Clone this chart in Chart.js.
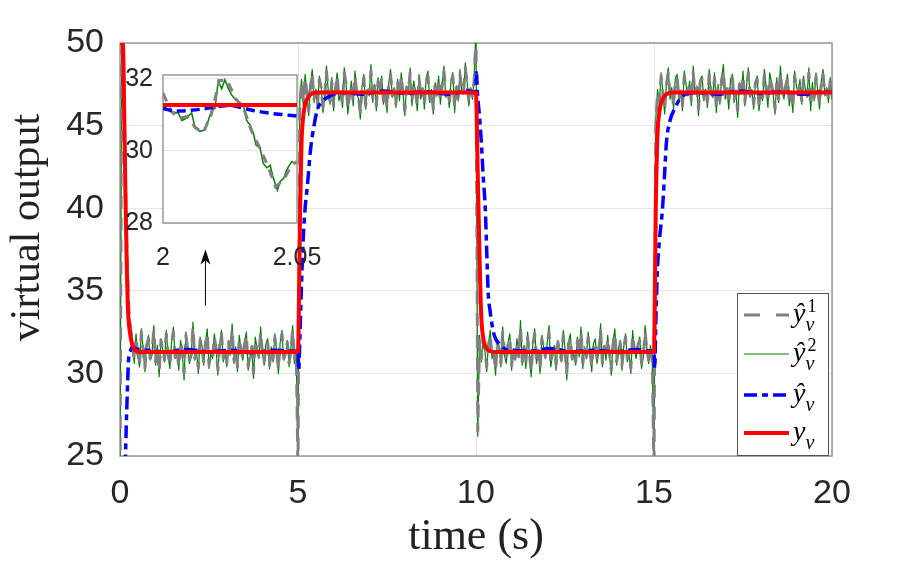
<!DOCTYPE html>
<html>
<head>
<meta charset="utf-8">
<script src="https://cdn.jsdelivr.net/npm/chart.js@4.4.1/dist/chart.umd.min.js"></script>
<style>
  body { margin: 0; background: #fff; }
  #wrap { position: relative; width: 920px; height: 570px; }
  #mainChart { position: absolute; left: 0; top: 0; }
  #insetChart { position: absolute; left: 110px; top: 50px; }
</style>
</head>
<body>
<div id="wrap">
  <canvas id="mainChart" width="920" height="570"></canvas>
  <canvas id="insetChart" width="230" height="220"></canvas>
</div>
<script>
// ticks
const xTicks = [0, 5, 10, 15, 20];
const yTicks = [25, 30, 35, 40, 45, 50];
const insetXTicks = [2, 2.05];
const insetYTicks = [28, 30, 32];

// y_v (red)
const redT = [0, 0.08, 0.1, 0.13, 0.16, 0.19, 0.22, 0.26, 0.3, 0.35, 0.43, 0.55, 2.5,
  5.0, 5.03, 5.06, 5.1, 5.15, 5.2, 5.3, 5.4, 5.55, 7.5,
  10.0, 10.02, 10.05, 10.08, 10.1, 10.13, 10.16, 10.2, 10.25, 10.35, 10.5, 12.5,
  15.0, 15.02, 15.05, 15.1, 15.15, 15.2, 15.3, 15.4, 15.55, 17.5, 20];
const redV = [50, 50, 48.5, 44, 40, 36.5, 34, 32.8, 32.2, 31.7, 31.4, 31.3, 31.3,
  31.3, 35, 40, 44, 45.6, 46.3, 46.75, 46.95, 47, 47,
  47, 45.5, 42, 39, 37, 34.5, 33, 32.2, 31.7, 31.4, 31.3, 31.3,
  31.3, 34, 40, 44.5, 45.8, 46.4, 46.8, 46.95, 47, 47, 47];

// y_v hat (blue)
const blueT = [0, 0.1, 0.15, 0.2, 0.24, 0.3, 0.34, 0.45, 0.8, 1.3, 1.9, 2.5, 3.1, 3.7, 4.3, 4.9,
  5.0, 5.02, 5.05, 5.1, 5.15, 5.2, 5.27, 5.35, 5.45, 5.55, 5.7, 5.9, 6.2, 6.8, 7.4, 8.0, 8.6, 9.2, 9.8,
  10.0, 10.01, 10.04, 10.1, 10.15, 10.2, 10.26, 10.3, 10.34, 10.4, 10.48, 10.55, 10.65, 10.8, 10.95,
  11.5, 12.1, 12.7, 13.3, 13.9, 14.5, 14.95,
  15.0, 15.02, 15.05, 15.09, 15.15, 15.24, 15.3, 15.35, 15.45, 15.6, 15.75, 15.9, 16.2,
  16.8, 17.4, 18.0, 18.6, 19.2, 19.8, 20];
const blueV = [5, 18, 24.5, 28.5, 30.8, 31.4, 31.6, 31.5, 31.4, 31.3, 31.45, 31.3, 31.4, 31.25, 31.4, 31.35,
  31.3, 30.2, 32, 35.5, 38.3, 40, 41.5, 43.5, 45, 46, 46.5, 46.8, 47, 46.9, 47.1, 46.95, 47.05, 46.9, 47.1,
  47, 48.2, 47, 45.5, 44, 42, 40, 37.5, 35, 33.7, 32.6, 32.1, 31.8, 31.5, 31.4,
  31.35, 31.5, 31.3, 31.4, 31.3, 31.45, 31.35,
  31.3, 30.3, 33, 36, 38, 40, 42.2, 44, 45.3, 46.1, 46.7, 46.9, 47,
  46.9, 47.1, 46.95, 47.05, 46.9, 47.05, 47];

// noisy estimates, one sample every 0.05 s, one array per 5 s window
const NOISE_DT = 0.05;
const greenA = [24, 50.5, 48.6, 41, 36.8, 33.6, 32.9,
  31.9, 30.6, 32.4, 31.0, 30.4, 32.7, 31.5, 30.1, 31.8, 32.3,
  30.8, 31.2, 32.9, 30.5, 31.7, 29.8, 32.1, 31.4, 30.7, 32.6,
  31.1, 30.3, 31.9, 32.8, 30.9, 31.5, 30.2, 32.0, 31.3, 29.6,
  32.5, 31.6, 30.6, 31.0, 33.1, 30.8, 31.4, 30.0, 32.2, 31.7,
  30.5, 31.9, 32.7, 30.3, 31.2, 30.9, 32.4, 31.5, 29.9, 31.8,
  32.6, 30.7, 31.3, 30.4, 32.0, 31.1, 33.0, 30.6, 31.6, 30.1,
  32.3, 31.4, 30.8, 31.9, 32.5, 30.2, 31.0, 31.7, 29.7, 32.2,
  31.5, 30.9, 32.8, 31.2, 30.5, 31.8, 32.1, 30.3, 31.6, 30.7,
  32.4, 31.3, 30.0, 31.9, 32.6, 30.8, 31.1, 32.0, 30.4, 31.5,
  32.9, 30.6, 31.4];
const greenB = [24, 46.6,
  47.8, 46.2, 48.1, 46.9, 45.6, 47.5, 48.4, 46.4, 47.2, 46.0,
  48.0, 47.4, 45.8, 46.7, 48.6, 47.1, 46.3, 47.9, 45.9, 47.3,
  48.2, 46.5, 47.0, 46.1, 48.5, 47.6, 45.7, 46.8, 47.7, 46.2,
  48.3, 47.0, 46.6, 45.4, 47.4, 48.1, 46.0, 47.2, 46.8, 48.7,
  46.4, 47.5, 45.9, 47.9, 46.9, 48.0, 46.3, 47.1, 45.8, 47.6,
  48.4, 46.7, 47.3, 46.1, 47.8, 46.5, 48.2, 47.0, 45.6, 47.4,
  46.9, 48.5, 46.2, 47.7, 47.1, 45.9, 48.1, 46.6, 47.3, 46.0,
  47.9, 48.3, 46.4, 47.2, 45.7, 47.6, 46.8, 48.0, 46.3, 47.5,
  48.6, 46.7, 47.0, 46.1, 47.8, 48.2, 45.8, 47.4, 46.5, 48.4,
  47.1, 46.9, 48.8, 47.7, 46.2, 47.3, 46.6, 48.0];
const greenC = [51, 26.2, 32.3,
  30.7, 32.2, 31.4, 30.1, 31.8, 32.6, 30.9, 31.3, 29.9, 32.0,
  31.6, 30.4, 32.8, 31.1, 30.6, 31.9, 32.4, 30.2, 31.5, 30.8,
  32.1, 31.0, 33.2, 30.5, 31.7, 30.3, 32.5, 31.2, 29.8, 31.9,
  32.7, 30.6, 31.4, 30.0, 32.3, 31.6, 30.9, 31.8, 32.9, 30.4,
  31.1, 31.7, 30.2, 32.0, 31.3, 30.7, 32.6, 31.5, 29.6, 31.9,
  32.4, 30.8, 31.2, 30.5, 32.2, 31.0, 32.8, 30.3, 31.6, 30.9,
  32.5, 31.4, 30.1, 31.8, 32.1, 30.6, 31.3, 33.0, 30.4, 31.7,
  30.8, 32.3, 31.1, 29.9, 31.9, 32.7, 30.5, 31.5, 32.0, 30.2,
  31.6, 32.4, 30.7, 31.2, 30.0, 32.6, 31.4, 30.9, 31.8, 32.2,
  30.3, 31.0, 32.9, 31.5, 30.6, 31.7, 30.8];
const greenD = [24, 45.4, 47.2,
  46.3, 48.2, 47.0, 45.7, 47.6, 48.5, 46.6, 47.3, 46.0, 47.9,
  48.1, 46.4, 47.1, 45.9, 48.3, 47.5, 46.8, 47.7, 46.2, 48.6,
  46.9, 47.4, 45.6, 47.8, 48.0, 46.5, 47.2, 46.1, 48.4, 47.0,
  46.7, 48.2, 45.8, 47.5, 46.3, 47.9, 48.7, 46.6, 47.3, 46.0,
  47.8, 48.1, 46.4, 47.1, 45.5, 47.6, 46.9, 48.3, 46.2, 47.4,
  48.5, 46.7, 47.2, 46.0, 47.7, 48.0, 45.9, 47.0, 46.5, 48.4,
  47.3, 46.1, 48.2, 47.6, 46.8, 45.7, 47.9, 46.4, 48.6, 47.1,
  46.6, 47.5, 48.1, 46.2, 47.0, 45.8, 48.3, 47.4, 46.9, 47.8,
  46.3, 48.0, 47.2, 46.7, 48.5, 45.9, 47.6, 46.5, 48.2, 47.1,
  46.0, 47.7, 48.4, 46.8, 47.3, 46.4, 47.9, 46.6];
const grayA = [24, 50.5, 48.4, 41.5, 37, 33.8, 32.7,
  31.8, 30.8, 32.2, 31.1, 30.6, 32.5, 31.4, 30.3, 31.7, 32.1,
  30.9, 31.3, 32.6, 30.7, 31.6, 30.1, 32.0, 31.4, 30.8, 32.4,
  31.2, 30.5, 31.8, 32.5, 31.0, 31.5, 30.4, 31.9, 31.3, 30.0,
  32.3, 31.5, 30.8, 31.1, 32.8, 30.9, 31.4, 30.3, 32.0, 31.6,
  30.7, 31.8, 32.4, 30.5, 31.2, 31.0, 32.2, 31.5, 30.2, 31.7,
  32.4, 30.9, 31.3, 30.6, 31.9, 31.2, 32.7, 30.8, 31.5, 30.4,
  32.1, 31.4, 30.9, 31.8, 32.3, 30.4, 31.1, 31.6, 30.0, 32.0,
  31.4, 31.0, 32.5, 31.2, 30.7, 31.7, 31.9, 30.5, 31.5, 30.9,
  32.2, 31.3, 30.3, 31.8, 32.4, 30.9, 31.2, 31.9, 30.6, 31.4,
  32.6, 30.8, 31.4];
const grayB = [24, 46.2,
  47.6, 46.4, 47.9, 47.0, 45.9, 47.4, 48.1, 46.6, 47.1, 46.3,
  47.8, 47.3, 46.1, 46.8, 48.3, 47.0, 46.5, 47.7, 46.2, 47.2,
  48.0, 46.7, 47.0, 46.3, 48.2, 47.5, 46.0, 46.9, 47.5, 46.4,
  48.0, 47.0, 46.7, 45.8, 47.3, 47.9, 46.2, 47.1, 46.9, 48.3,
  46.6, 47.4, 46.2, 47.7, 46.9, 47.8, 46.5, 47.0, 46.1, 47.5,
  48.1, 46.8, 47.2, 46.3, 47.6, 46.7, 48.0, 47.0, 45.9, 47.3,
  47.0, 48.2, 46.4, 47.5, 47.1, 46.2, 47.9, 46.7, 47.2, 46.3,
  47.7, 48.0, 46.6, 47.1, 46.0, 47.5, 46.9, 47.8, 46.5, 47.4,
  48.3, 46.8, 47.0, 46.3, 47.6, 48.0, 46.1, 47.3, 46.7, 48.1,
  47.1, 47.0, 48.5, 47.5, 46.4, 47.2, 46.8, 47.8];
const grayC = [50.5, 26.5, 32.0,
  30.9, 32.0, 31.4, 30.4, 31.7, 32.3, 31.0, 31.3, 30.2, 31.9,
  31.5, 30.6, 32.5, 31.2, 30.8, 31.8, 32.1, 30.5, 31.4, 30.9,
  31.9, 31.0, 32.8, 30.7, 31.6, 30.6, 32.2, 31.2, 30.1, 31.8,
  32.4, 30.8, 31.4, 30.3, 32.1, 31.5, 31.0, 31.7, 32.5, 30.6,
  31.2, 31.6, 30.5, 31.9, 31.3, 30.8, 32.3, 31.4, 30.0, 31.8,
  32.1, 30.9, 31.2, 30.7, 32.0, 31.1, 32.5, 30.6, 31.5, 31.0,
  32.2, 31.4, 30.4, 31.7, 31.9, 30.8, 31.3, 32.6, 30.6, 31.6,
  30.9, 32.1, 31.2, 30.2, 31.8, 32.4, 30.7, 31.4, 31.9, 30.5,
  31.5, 32.2, 30.9, 31.2, 30.3, 32.3, 31.4, 31.0, 31.7, 32.0,
  30.6, 31.1, 32.5, 31.4, 30.8, 31.6, 30.9];
const grayD = [24, 45.0, 47.0,
  46.5, 48.0, 47.0, 46.0, 47.5, 48.2, 46.8, 47.2, 46.2, 47.8,
  47.9, 46.6, 47.1, 46.2, 48.0, 47.4, 46.9, 47.6, 46.4, 48.2,
  47.0, 47.3, 46.0, 47.7, 47.8, 46.7, 47.1, 46.4, 48.1, 47.0,
  46.8, 47.9, 46.1, 47.4, 46.5, 47.8, 48.3, 46.8, 47.2, 46.3,
  47.6, 47.9, 46.6, 47.1, 45.9, 47.5, 46.9, 48.0, 46.4, 47.3,
  48.2, 46.8, 47.1, 46.3, 47.6, 47.8, 46.2, 47.0, 46.7, 48.1,
  47.2, 46.4, 47.9, 47.5, 46.9, 46.0, 47.7, 46.6, 48.2, 47.1,
  46.8, 47.4, 47.9, 46.4, 47.0, 46.1, 48.0, 47.3, 46.9, 47.6,
  46.5, 47.8, 47.1, 46.8, 48.2, 46.2, 47.5, 46.7, 48.0, 47.1,
  46.3, 47.6, 48.1, 46.9, 47.2, 46.6, 47.7, 46.8];
const windowStarts = [0, 5, 10, 15];

// zoom 2 .. 2.05 s
const insetGreenT = [2.0, 2.0026, 2.0057, 2.007, 2.0082, 2.0107, 2.012, 2.0138, 2.0157, 2.0169,
  2.0182, 2.0194, 2.0206, 2.0219, 2.0231, 2.0244, 2.0256, 2.0269, 2.0287, 2.03,
  2.0312, 2.0325, 2.0337, 2.0347, 2.0362, 2.0374, 2.0387, 2.04, 2.0412, 2.0427,
  2.0437, 2.045, 2.0462, 2.048, 2.0492, 2.05];
const insetGreenV = [31.26, 31.09, 31.05, 30.84, 30.88, 31.05, 30.63, 30.54, 30.58, 30.84,
  31.13, 31.17, 31.93, 31.72, 31.97, 31.72, 31.55, 31.43, 31.34, 31.26,
  30.84, 30.71, 30.5, 30.16, 30.08, 29.65, 29.53, 29.6, 29.23, 28.91,
  29.15, 29.23, 29.48, 29.7, 29.66, 29.7];
const insetGrayT = [2.0, 2.003, 2.006, 2.009, 2.012, 2.015, 2.018, 2.021, 2.024, 2.027,
  2.03, 2.033, 2.036, 2.039, 2.042, 2.045, 2.048, 2.05];
const insetGrayV = [31.6, 31.1, 30.9, 30.95, 30.65, 30.5, 31.0, 31.95, 31.95, 31.45,
  31.2, 30.55, 30.1, 29.6, 29.0, 29.2, 29.6, 29.7];
const insetBlueT = [2.0, 2.005, 2.01, 2.015, 2.02, 2.025, 2.03, 2.035, 2.04, 2.045, 2.05];
const insetBlueV = [31.17, 31.1, 31.12, 31.16, 31.22, 31.26, 31.18, 31.1, 31.04, 31.0, 30.96];
const insetRedT = [2.0, 2.05];
const insetRedV = [31.27, 31.27];

// legend
const legendSup = ["1", "2", "", ""];
const legendHat = [true, true, true, false];

// arrow pointing at the zoom window (time, from, to)
const arrowT = 2.4;
const arrowFrom = 34.1;
const arrowTo = 37.5;

const pts = (ts, vs) => vs.map((v, i) => ({ x: ts[i], y: v }));
const windowPts = (wins) =>
  wins.flatMap((vals, k) =>
    vals.map((v, i) => ({ x: +(windowStarts[k] + i * NOISE_DT).toFixed(2), y: v }))
  );

const tickFont = { family: "Liberation Sans", size: 34 };
const tickColor = "#262626";
const gridColor = "#e6e6e6";
const frameColor = "#8a8a8a";

// gray drawn above green, red on top of all
const styles = [
  { borderColor: "#808080", borderWidth: 3, borderDash: [13, 9], order: 3 },
  { borderColor: "#008000", borderWidth: 1.2, borderDash: [], order: 4 },
  { borderColor: "#0000ff", borderWidth: 3.5, borderDash: [13, 5, 6, 5], order: 2, cubicInterpolationMode: "monotone" },
  { borderColor: "#ff0000", borderWidth: 4, borderDash: [], order: 1, cubicInterpolationMode: "monotone" },
];

function drawSym(ctx, x, y, hat, sup) {
  ctx.fillStyle = "#000";
  ctx.textAlign = "left";
  ctx.textBaseline = "alphabetic";
  ctx.font = "italic 28px 'Liberation Serif'";
  ctx.fillText(hat ? "ŷ" : "y", x, y);
  const w = ctx.measureText("y").width;
  ctx.font = "italic 20px 'Liberation Serif'";
  ctx.fillText("v", x + w, y + 9);
  if (sup) {
    ctx.font = "18px 'Liberation Serif'";
    ctx.fillText(sup, x + w + 2, y - 10);
  }
}

const frame = {
  id: "frame",
  beforeDatasetsDraw(chart) {
    const { ctx, chartArea: a } = chart;
    ctx.save();
    ctx.strokeStyle = frameColor;
    ctx.lineWidth = 1.3;
    ctx.strokeRect(a.left, a.top, a.right - a.left, a.bottom - a.top);
    ctx.restore();
  },
};

// y label, centred a little above the middle of the axis like the original
const yLabel = {
  id: "yLabel",
  afterDraw(chart) {
    const { ctx, chartArea: a } = chart;
    ctx.save();
    ctx.translate(28, (a.top + a.bottom) / 2 - 22);
    ctx.rotate(-Math.PI / 2);
    ctx.font = "42px 'Liberation Serif'";
    ctx.fillStyle = "#222";
    ctx.textAlign = "center";
    ctx.textBaseline = "middle";
    ctx.fillText("virtual output", 0, 0);
    ctx.restore();
  },
};

const legendBox = {
  id: "legendBox",
  afterDraw(chart) {
    const { ctx, chartArea: a } = chart;
    const w = 91, h = 162;
    const left = a.right - w - 4, top = a.bottom - h - 1;
    const rows = [22, 61, 102, 140];
    ctx.save();
    ctx.fillStyle = "#fff";
    ctx.fillRect(left, top, w, h);
    ctx.strokeStyle = "#555";
    ctx.lineWidth = 1;
    ctx.strokeRect(left + 0.5, top + 0.5, w, h);
    chart.data.datasets.forEach((ds, i) => {
      const y = top + rows[i];
      ctx.beginPath();
      ctx.setLineDash(i === 0 ? [16, 16] : ds.borderDash);
      ctx.strokeStyle = ds.borderColor;
      ctx.lineWidth = ds.borderWidth;
      ctx.moveTo(left + 7, y);
      ctx.lineTo(left + 52, y);
      ctx.stroke();
      ctx.setLineDash([]);
      drawSym(ctx, left + 56, y + 7, legendHat[i], legendSup[i]);
    });
    ctx.restore();
  },
};

const arrowNote = {
  id: "arrowNote",
  afterDraw(chart) {
    const { ctx, scales: { x, y } } = chart;
    const px = x.getPixelForValue(arrowT);
    const y0 = y.getPixelForValue(arrowFrom);
    const y1 = y.getPixelForValue(arrowTo);
    ctx.save();
    ctx.strokeStyle = "#000";
    ctx.fillStyle = "#000";
    ctx.lineWidth = 1;
    ctx.beginPath();
    ctx.moveTo(px, y0);
    ctx.lineTo(px, y1 + 8);
    ctx.stroke();
    ctx.beginPath();
    ctx.moveTo(px, y1);
    ctx.lineTo(px + 5, y1 + 15);
    ctx.lineTo(px, y1 + 11);
    ctx.lineTo(px - 5, y1 + 15);
    ctx.closePath();
    ctx.fill();
    ctx.restore();
  },
};

//Main plot
new Chart(document.getElementById("mainChart"), {
  type: "line",
  data: {
    datasets: [
      { label: "y1", data: windowPts([grayA, grayB, grayC, grayD]), ...styles[0] },
      { label: "y2", data: windowPts([greenA, greenB, greenC, greenD]), ...styles[1] },
      { label: "yhat", data: pts(blueT, blueV), ...styles[2] },
      { label: "y", data: pts(redT, redV), ...styles[3] },
    ],
  },
  options: {
    responsive: false,
    animation: false,
    clip: 0,
    elements: { point: { radius: 0 }, line: { tension: 0, borderJoinStyle: "round" } },
    layout: { padding: { top: 43, right: 88, left: 0, bottom: 0 } },
    scales: {
      x: {
        type: "linear",
        min: 0,
        max: 20,
        afterFit: (s) => { s.height = 114; },
        afterBuildTicks: (s) => { s.ticks = xTicks.map((v) => ({ value: v })); },
        ticks: { padding: 17, font: tickFont, color: tickColor, callback: (v) => String(v) },
        grid: { color: gridColor, drawTicks: false },
        border: { display: false },
        title: {
          display: true,
          text: "time (s)",
          font: { family: "Liberation Serif", size: 44 },
          color: "#222",
          padding: { top: 0, bottom: 6 },
        },
      },
      y: {
        type: "linear",
        min: 25,
        max: 50,
        afterFit: (s) => { s.width = 120; },
        afterBuildTicks: (s) => { s.ticks = yTicks.map((v) => ({ value: v })); },
        ticks: { padding: 16, font: tickFont, color: tickColor, callback: (v) => String(v) },
        grid: { color: gridColor, drawTicks: false },
        border: { display: false },
      },
    },
    plugins: { legend: { display: false }, tooltip: { enabled: false } },
  },
  plugins: [frame, yLabel, legendBox, arrowNote],
});

//Zoom window
const insetFrame = {
  id: "insetFrame",
  beforeDraw(chart) {
    const { ctx, chartArea: a } = chart;
    ctx.save();
    ctx.fillStyle = "#fff";
    ctx.fillRect(a.left, a.top, a.right - a.left, a.bottom - a.top);
    ctx.restore();
  },
  beforeDatasetsDraw(chart) {
    const { ctx, chartArea: a } = chart;
    ctx.save();
    ctx.strokeStyle = frameColor;
    ctx.lineWidth = 1.3;
    ctx.strokeRect(a.left, a.top, a.right - a.left, a.bottom - a.top);
    ctx.restore();
  },
};

const insetFont = { family: "Liberation Sans", size: 25 };
new Chart(document.getElementById("insetChart"), {
  type: "line",
  data: {
    datasets: [
      { data: pts(insetGrayT, insetGrayV), ...styles[0], borderDash: [9, 7] },
      { data: pts(insetGreenT, insetGreenV), ...styles[1], borderWidth: 1.5 },
      { data: pts(insetBlueT, insetBlueV), ...styles[2], borderDash: [9, 5] },
      { data: pts(insetRedT, insetRedV), ...styles[3] },
    ],
  },
  options: {
    responsive: false,
    animation: false,
    clip: 0,
    elements: { point: { radius: 0 }, line: { tension: 0 } },
    layout: { padding: { top: 12, right: 43, left: 0, bottom: 0 } },
    scales: {
      x: {
        type: "linear",
        min: 2,
        max: 2.05,
        afterFit: (s) => { s.height = 47; },
        afterBuildTicks: (s) => { s.ticks = insetXTicks.map((v) => ({ value: v })); },
        ticks: { padding: 12, font: insetFont, color: tickColor, callback: (v) => String(v) },
        grid: { display: false },
        border: { display: false },
      },
      y: {
        type: "linear",
        min: 28,
        max: 32.1,
        afterFit: (s) => { s.width = 53; },
        afterBuildTicks: (s) => { s.ticks = insetYTicks.map((v) => ({ value: v })); },
        ticks: { padding: 10, font: insetFont, color: tickColor, callback: (v) => String(v) },
        grid: { color: gridColor, drawTicks: false },
        border: { display: false },
      },
    },
    plugins: { legend: { display: false }, tooltip: { enabled: false } },
  },
  plugins: [insetFrame],
});
</script>
</body>
</html>
